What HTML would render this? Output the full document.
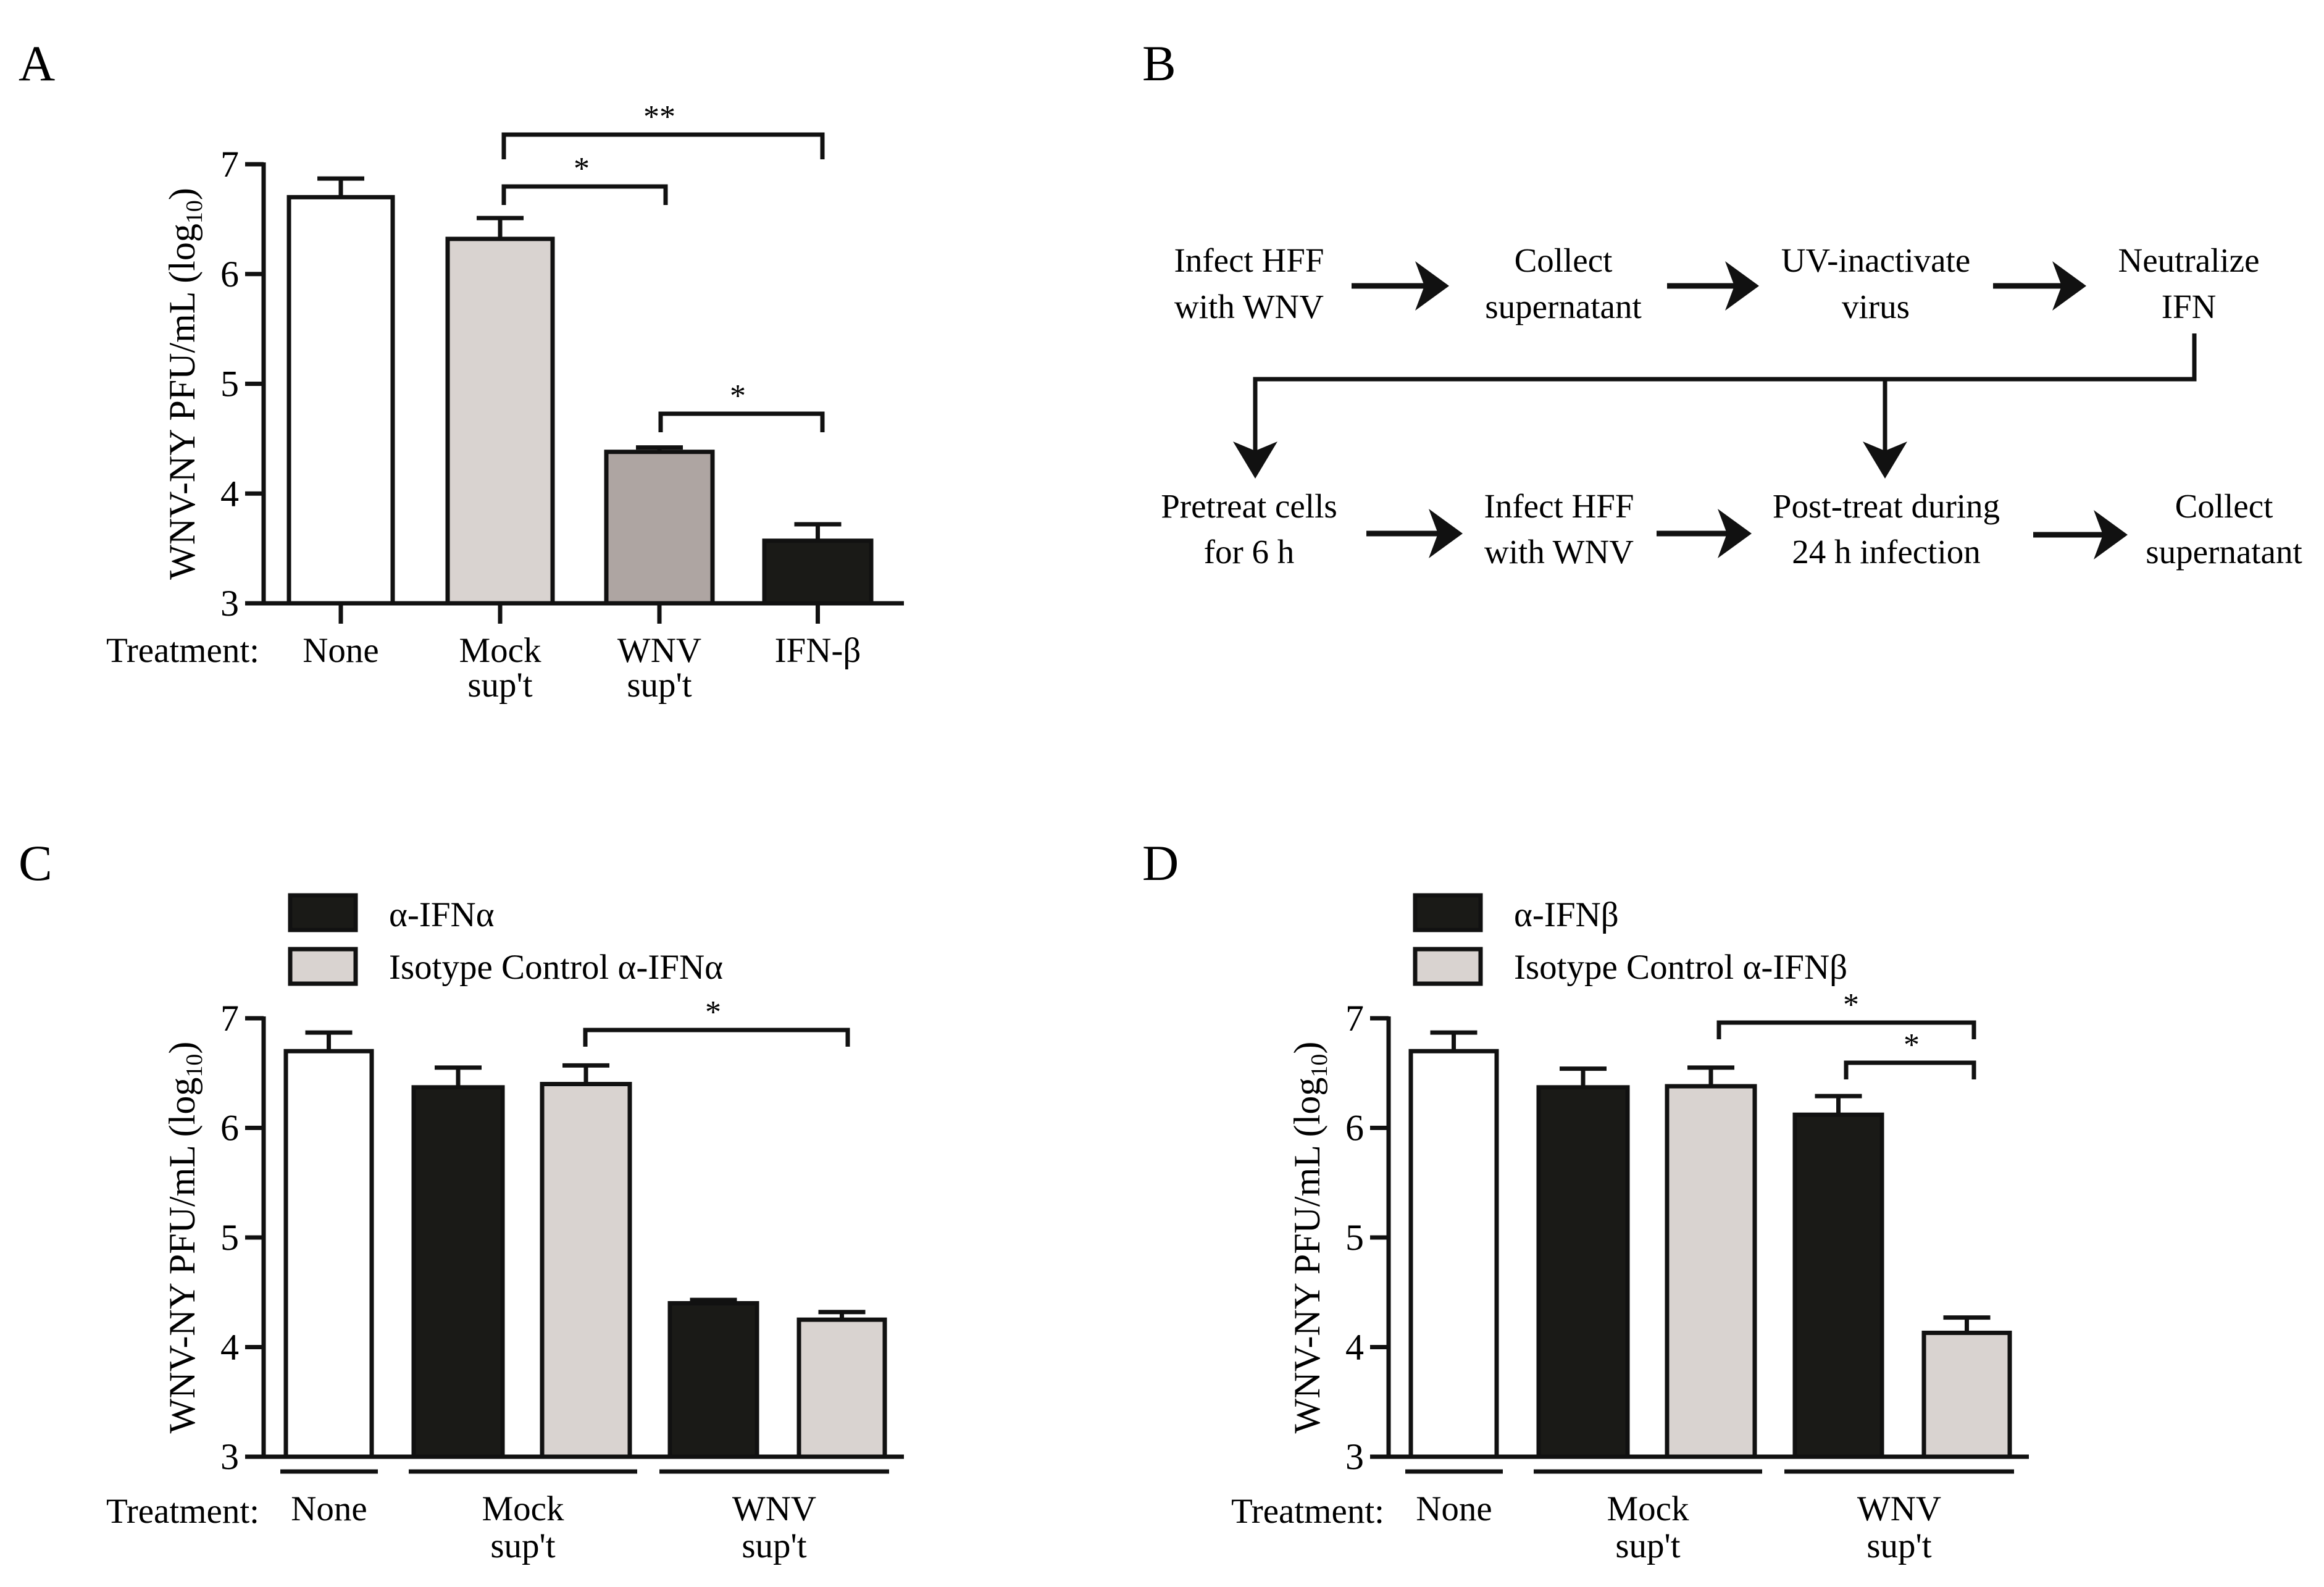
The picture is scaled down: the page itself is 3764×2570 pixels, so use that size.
<!DOCTYPE html>
<html><head><meta charset="utf-8"><style>
html,body{margin:0;padding:0;background:#fff;}
svg{display:block;font-family:"Liberation Serif",serif;}
</style></head>
<body>
<svg id="fig" width="3764" height="2570" viewBox="0 0 3764 2570" xmlns="http://www.w3.org/2000/svg">
<rect width="3764" height="2570" fill="#fff"/>
<text x="30" y="130" font-size="82">A</text>
<text x="1850" y="130" font-size="82">B</text>
<text x="30" y="1425" font-size="82">C</text>
<text x="1850" y="1425" font-size="82">D</text>
<g id="gA"></g>
<g id="gB"></g>
<g id="gC"></g>
<g id="gD"></g>
</svg>
<script>
// ---- Data ----
const aCategories = ["None", "Mock sup't", "WNV sup't", "IFN-β"];
const aValues = [6.70, 6.32, 4.38, 3.57];
const aErrors = [0.17, 0.19, 0.04, 0.15];
const cValues = [6.70, 6.37, 6.40, 4.40, 4.25];
const cErrors = [0.17, 0.18, 0.17, 0.03, 0.07];
const dValues = [6.70, 6.37, 6.38, 6.12, 4.13];
const dErrors = [0.17, 0.17, 0.17, 0.17, 0.14];
const yTicks = [3, 4, 5, 6, 7];
const groupLabels = ["None", "Mock sup't", "WNV sup't"];

const NS = "http://www.w3.org/2000/svg";
function mk(parent, tag, attrs, text){
  const e = document.createElementNS(NS, tag);
  for (const k in attrs) e.setAttribute(k, attrs[k]);
  if (text !== undefined) e.textContent = text;
  parent.appendChild(e); return e;
}
const SW = 7;
const COL = {white:"#ffffff", light:"#d9d3d0", mid:"#aea5a2", dark:"#1a1a17"};

function axis(g, ox, top, bot, right){
  const y = v => bot - (v - 3) / 4 * (bot - top);
  const ya = mk(g, "line", {x1:ox, y1:top-3, x2:ox, y2:bot, stroke:"#111", "stroke-width":SW});
  
  
  const xa = mk(g, "line", {x1:ox-30, y1:bot, x2:right, y2:bot, stroke:"#111", "stroke-width":SW});
  
  
  yTicks.forEach(t => {
    const tk = mk(g, "line", {x1:ox-30, y1:y(t), x2:ox, y2:y(t), stroke:"#111", "stroke-width":SW});
    
    
    const tl = mk(g, "text", {x:ox-40, y:y(t)+20, "font-size":60, "text-anchor":"end"}, String(t));
    
    
  });
  const cy = (top + bot) / 2, cx = ox - 112;
  const tt = mk(g, "text", {x:cx, y:cy, "font-size":60, "text-anchor":"middle", transform:`rotate(-90 ${cx} ${cy})`});
  
  
  tt.appendChild(document.createTextNode("WNV-NY PFU/mL (log"));
  mk(tt, "tspan", {"font-size":38, dy:12}, "10");
  mk(tt, "tspan", {dy:-12}, ")");
  return y;
}
function bar(g, y, x0, x1, v, err, fill){
  const cx = (x0 + x1) / 2;
  const ey = y(v + err);
  const el = mk(g, "line", {x1:cx, y1:y(v), x2:cx, y2:ey, stroke:"#111", "stroke-width":SW});
  
  
  const ec = mk(g, "line", {x1:cx-38, y1:ey, x2:cx+38, y2:ey, stroke:"#111", "stroke-width":SW});
  
  
  const r = mk(g, "rect", {x:x0, y:y(v), width:x1-x0, height:y(3)-y(v), fill:fill, stroke:"#111", "stroke-width":SW});
  
  
}
function bracket(g, x0, x1, yb, drop, stars, sx){
  const p = mk(g, "path", {d:`M${x0},${yb+drop} V${yb} H${x1} V${yb+drop}`, fill:"none", stroke:"#111", "stroke-width":SW});
  
  
  const s = mk(g, "text", {x:sx, y:yb-12, "font-size":52, "text-anchor":"middle"}, stars);
  
  
}
function txt(g, x, y, s, size, name, anchor){
  const t = mk(g, "text", {x:x, y:y, "font-size":size, "text-anchor":anchor||"middle"}, s);
  
  
  return t;
}

// ---- Panel A ----
(function(){
  const g = document.getElementById("gA");
  const y = axis(g, 427, 266, 977, 1464);
  const bx = [[468,636],[725,895],[982,1154],[1238,1411]];
  const fills = [COL.white, COL.light, COL.mid, COL.dark];
  aValues.forEach((v,i) => bar(g, y, bx[i][0], bx[i][1], v, aErrors[i], fills[i]));
  bx.forEach(b => {
    const c = (b[0]+b[1])/2;
    const t = mk(g, "line", {x1:c, y1:977, x2:c, y2:1010, stroke:"#111", "stroke-width":SW});
    
    
  });
  txt(g, 420, 1072, "Treatment:", 57, "x-axis-title", "end");
  aCategories.forEach((c,i) => {
    const cx = (bx[i][0]+bx[i][1])/2;
    const parts = c.split(" ");
    txt(g, cx, 1072, parts[0], 57, "category-label");
    if (parts[1]) txt(g, cx, 1128, parts[1], 57, "category-label");
  });
  bracket(g, 816, 1332, 218, 40, "**", 1068);
  bracket(g, 816, 1078, 302, 30, "*", 942);
  bracket(g, 1070, 1332, 670, 30, "*", 1195);
})();

// ---- Panels C & D ----
function groupPanel(id, off, vals, errs, legendA, legendB, brackets){
  const g = document.getElementById(id);
  const y = axis(g, 427+off, 1649, 2359, 1464+off);
  const bx = [[463,602],[670,814],[878,1020],[1085,1226],[1294,1433]];
  const fills = [COL.white, COL.dark, COL.light, COL.dark, COL.light];
  vals.forEach((v,i) => bar(g, y, bx[i][0]+off, bx[i][1]+off, v, errs[i], fills[i]));
  const ul = [[454,612],[662,1032],[1068,1440]];
  ul.forEach((u,i) => {
    const l = mk(g, "line", {x1:u[0]+off, y1:2383, x2:u[1]+off, y2:2383, stroke:"#111", "stroke-width":SW});
    
    
    const cx = (u[0]+u[1])/2 + off;
    const parts = groupLabels[i].split(" ");
    txt(g, cx, 2462, parts[0], 57, "group-label");
    if (parts[1]) txt(g, cx, 2522, parts[1], 57, "group-label");
  });
  txt(g, 420+off, 2466, "Treatment:", 57, "x-axis-title", "end");
  const r1 = mk(g, "rect", {x:470+off, y:1450, width:106, height:56, fill:COL.dark, stroke:"#111", "stroke-width":SW});
  
  
  const r2 = mk(g, "rect", {x:470+off, y:1537, width:106, height:56, fill:COL.light, stroke:"#111", "stroke-width":SW});
  
  
  txt(g, 630+off, 1500, legendA, 57, "legend-label-antibody", "start");
  txt(g, 630+off, 1585, legendB, 57, "legend-label-isotype", "start");
  brackets.forEach(b => bracket(g, b[0]+off, b[1]+off, b[2], b[3], b[4], b[5]+off));
}
groupPanel("gC", 0, cValues, cErrors, "α-IFNα", "Isotype Control α-IFNα", [[948,1373,1668,27,"*",1155]]);
groupPanel("gD", 1822, dValues, dErrors, "α-IFNβ", "Isotype Control α-IFNβ", [[962,1375,1656,27,"*",1176],[1168,1375,1721,27,"*",1274]]);

// ---- Panel B flowchart ----
(function(){
  const g = document.getElementById("gB");
  const row1 = [[2023,"Infect HFF","with WNV"],[2532,"Collect","supernatant"],[3038,"UV-inactivate","virus"],[3545,"Neutralize","IFN"]];
  const row2 = [[2023,"Pretreat cells","for 6 h"],[2525,"Infect HFF","with WNV"],[3055,"Post-treat during","24 h infection"],[3602,"Collect","supernatant"]];
  row1.forEach(r => { txt(g, r[0], 440, r[1], 55, "flow-step"); txt(g, r[0], 515, r[2], 55, "flow-step"); });
  row2.forEach(r => { txt(g, r[0], 838, r[1], 55, "flow-step"); txt(g, r[0], 912, r[2], 55, "flow-step"); });
  function harrow(x0, x1, yy){
    const l = mk(g, "line", {x1:x0, y1:yy, x2:x1-30, y2:yy, stroke:"#111", "stroke-width":9});
    
    
    const p = mk(g, "polygon", {points:`${x1},${yy} ${x1-55},${yy-40} ${x1-40},${yy} ${x1-55},${yy+40}`, fill:"#111"});
    
    
  }
  harrow(2189, 2347, 463); harrow(2700, 2849, 463); harrow(3228, 3379, 463);
  harrow(2213, 2369, 864); harrow(2683, 2837, 864); harrow(3293, 3446, 866);
  const c = mk(g, "path", {d:"M3554,540 V614 H2033 V740 M3053,614 V740", fill:"none", stroke:"#111", "stroke-width":7});
  
  
  [2033, 3053].forEach(x => {
    const p = mk(g, "polygon", {points:`${x},775 ${x-36},715 ${x},730 ${x+36},715`, fill:"#111"});
    
    
  });
})();
</script>
</body></html>
